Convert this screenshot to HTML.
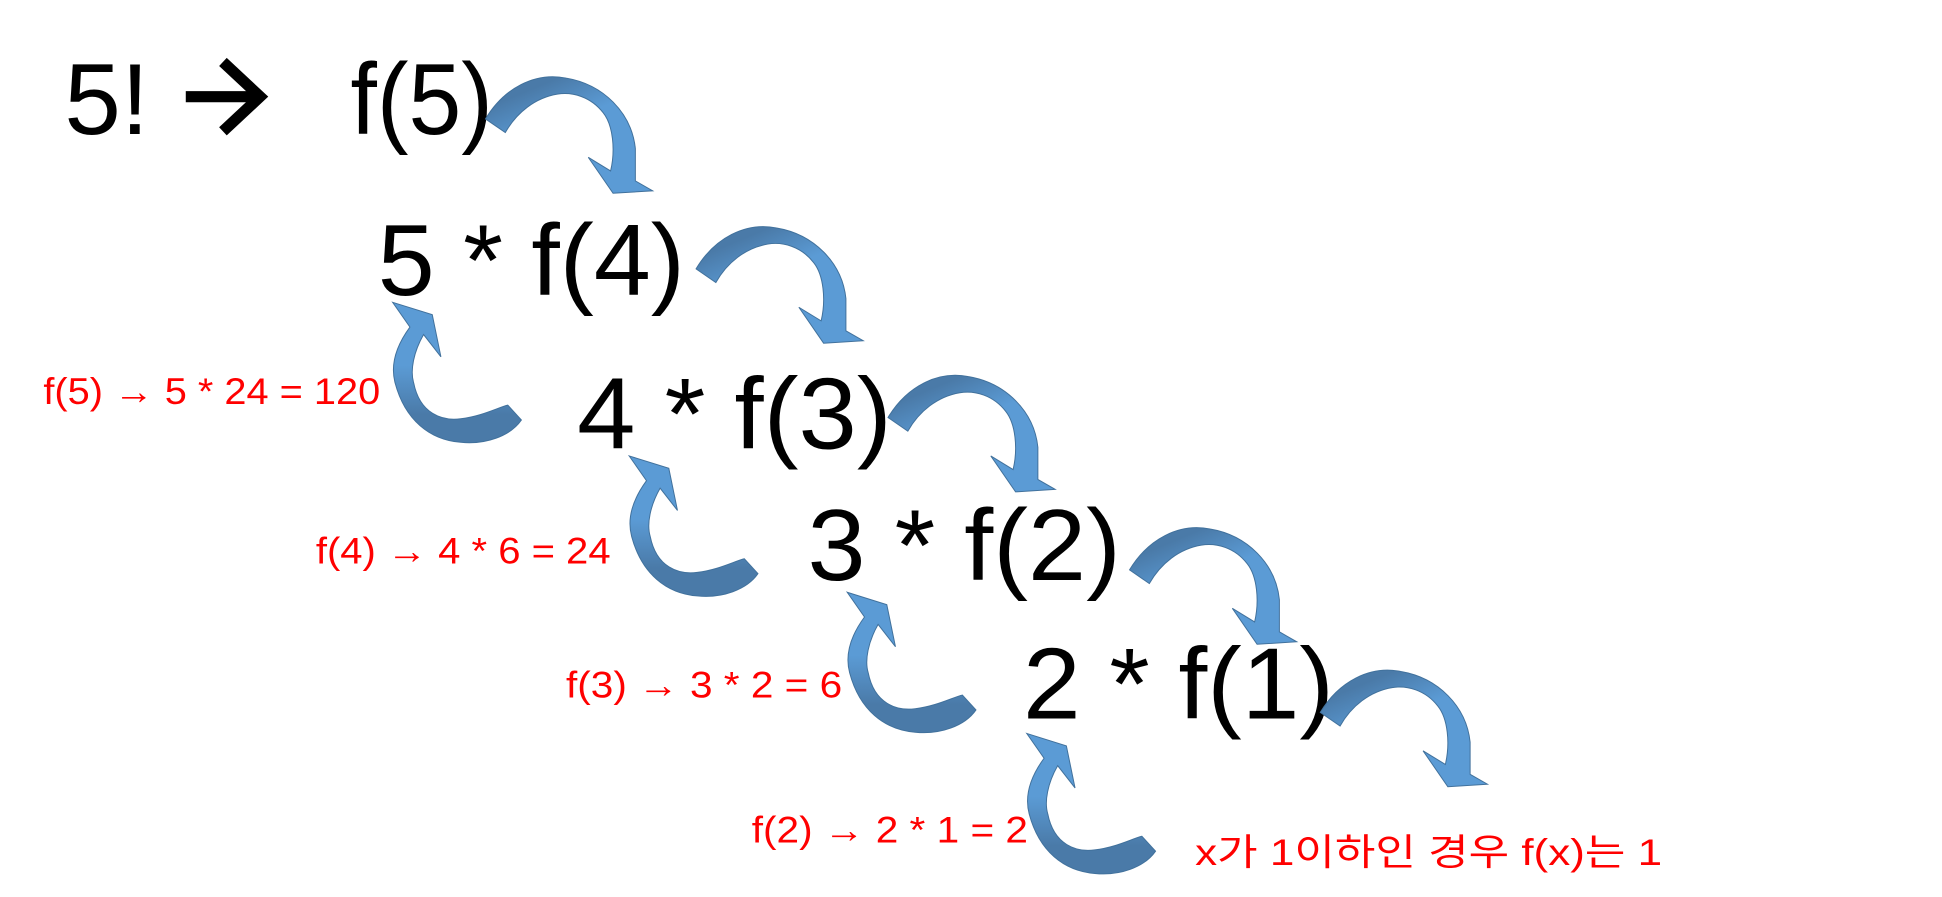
<!DOCTYPE html>
<html><head><meta charset="utf-8"><style>
html,body{margin:0;padding:0;background:#fff;}
svg{display:block;}
.big{font-family:"Liberation Sans","Noto Sans CJK KR",sans-serif;font-size:82px;fill:#000;}
.red{font-family:"Liberation Sans","Noto Sans CJK KR",sans-serif;font-size:30px;fill:#ff0000;}
</style></head><body>
<svg width="1942" height="897" viewBox="0 0 1568 724" preserveAspectRatio="none">
<defs>
<linearGradient id="g" x1="0" y1="0" x2="0.6" y2="1"><stop offset="0.2" stop-color="#4a7aa8"/><stop offset="0.5" stop-color="#5b9bd5"/></linearGradient>
<linearGradient id="g2" x1="0" y1="1" x2="0" y2="0"><stop offset="0.2" stop-color="#4a7aa8"/><stop offset="0.55" stop-color="#5b9bd5"/></linearGradient>
<path id="down" d="M0,0 C15,-25 40,-38 65,-33 C95,-28 118,-5 121,24 L121,50 L135,58 L103,60 L83,31 L101,42 C105,25 103,5 95,-5 C85,-18 70,-22 58,-20 C40,-17 25,-5 16,11 Z" fill="url(#g)" stroke="#41719c" stroke-width="0.8"/>
<path id="up" d="M0,0 L32,10 L39,44 L25,26 C17,40 14,55 17,65 C22,90 40,96 55,94 C72,92 85,85 93,83 L104,95 C95,108 75,115 55,113 C30,111 10,95 2,65 C-2,50 3,35 14,20 Z" fill="url(#g2)" stroke="#41719c" stroke-width="0.8"/>
</defs>

<text class="big" x="52" y="108">5!</text>
<g fill="none" stroke="#000" stroke-width="9">
<line x1="150" y1="78" x2="208" y2="78"/>
<polyline points="180,50 210,78 180,106" stroke-linejoin="miter"/>
</g>
<text class="big" x="283" y="108" textLength="115" lengthAdjust="spacingAndGlyphs">f(5)</text>
<text class="big" x="305" y="238" textLength="248" lengthAdjust="spacingAndGlyphs">5 * f(4)</text>
<text class="big" x="466" y="362" textLength="254" lengthAdjust="spacingAndGlyphs">4 * f(3)</text>
<text class="big" x="652" y="468" textLength="253" lengthAdjust="spacingAndGlyphs">3 * f(2)</text>
<text class="big" x="826" y="580" textLength="251" lengthAdjust="spacingAndGlyphs">2 * f(1)</text>

<text class="red" x="35" y="326" textLength="272" lengthAdjust="spacingAndGlyphs">f(5) → 5 * 24 = 120</text>
<text class="red" x="255" y="455" textLength="238" lengthAdjust="spacingAndGlyphs">f(4) → 4 * 6 = 24</text>
<text class="red" x="457" y="563" textLength="223" lengthAdjust="spacingAndGlyphs">f(3) → 3 * 2 = 6</text>
<text class="red" x="607" y="680" textLength="223" lengthAdjust="spacingAndGlyphs">f(2) → 2 * 1 = 2</text>
<text class="red" x="965" y="698" font-size="34" textLength="377" lengthAdjust="spacingAndGlyphs">x가 1이하인 경우 f(x)는 1</text>

<use href="#down" x="392" y="96"/>
<use href="#down" x="562" y="217"/>
<use href="#down" x="717" y="337"/>
<use href="#down" x="912" y="460"/>
<use href="#down" x="1066" y="575"/>

<use href="#up" x="317" y="244"/>
<use href="#up" x="508" y="368"/>
<use href="#up" x="684" y="478"/>
<use href="#up" x="829" y="592"/>
</svg>
</body></html>
